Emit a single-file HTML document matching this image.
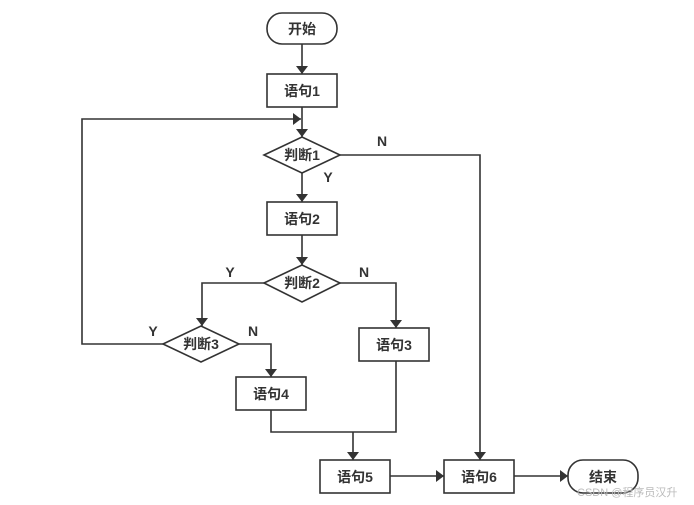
<!DOCTYPE html>
<html><head><meta charset="utf-8"><style>
html,body{margin:0;padding:0;background:#fff;}
svg{display:block}
text{font-family:"Liberation Sans","Noto Sans CJK SC",sans-serif;font-weight:bold;fill:#333;font-size:14px}
</style></head><body>
<svg width="694" height="505" viewBox="0 0 694 505" xmlns="http://www.w3.org/2000/svg">
<defs><marker id="a" viewBox="0 0 10 10" refX="10" refY="5" markerWidth="7" markerHeight="7" orient="auto" markerUnits="userSpaceOnUse"><path d="M0,0L10,5L0,10z" fill="#333"/></marker>
<marker id="b" viewBox="0 0 10 10" refX="10" refY="5" markerWidth="8" markerHeight="12" orient="auto" markerUnits="userSpaceOnUse" preserveAspectRatio="none"><path d="M0,0L10,5L0,10z" fill="#333"/></marker></defs>
<g fill="none" stroke="#333" stroke-width="1.6">
<rect x="267" y="13" width="70" height="31" rx="15"/>
<rect x="267" y="74" width="70" height="33"/>
<polygon points="264,155 302,137 340,155 302,173"/>
<rect x="267" y="202" width="70" height="33"/>
<polygon points="264,283 302,265 340,283 302,302"/>
<polygon points="163,344 201,326 239,344 201,362"/>
<rect x="359" y="328" width="70" height="33"/>
<rect x="236" y="377" width="70" height="33"/>
<rect x="320" y="460" width="70" height="33"/>
<rect x="444" y="460" width="70" height="33"/>
<rect x="568" y="460" width="70" height="33" rx="15"/>
<g marker-end="url(#b)">
<path d="M302,44V74"/>
<path d="M302,107V137"/>
<path d="M163,344H82V119H301"/>
<path d="M302,173V202"/>
<path d="M302,235V265"/>
<path d="M340,155H480V460"/>
<path d="M264,283H202V326"/>
<path d="M340,283H396V328"/>
<path d="M239,344H271V377"/>
<path d="M271,410V432H396V361M353,432V460"/>
<path d="M390,476H444"/>
<path d="M514,476H568"/>
</g>
</g>
<g text-anchor="middle">
<text x="302" y="34">开始</text>
<text x="302" y="96">语句1</text>
<text x="302" y="160">判断1</text>
<text x="302" y="224">语句2</text>
<text x="302" y="288">判断2</text>
<text x="201" y="349">判断3</text>
<text x="394" y="350">语句3</text>
<text x="271" y="399">语句4</text>
<text x="355" y="482">语句5</text>
<text x="479" y="482">语句6</text>
<text x="603" y="482">结束</text>
<text x="382" y="146">N</text>
<text x="328" y="182">Y</text>
<text x="230" y="277">Y</text>
<text x="364" y="277">N</text>
<text x="153" y="336">Y</text>
<text x="253" y="336">N</text>
</g>
<text x="577" y="496" style="font-weight:normal;font-size:11px;fill:#bbb">CSDN @程序员汉升</text>
</svg>
</body></html>
